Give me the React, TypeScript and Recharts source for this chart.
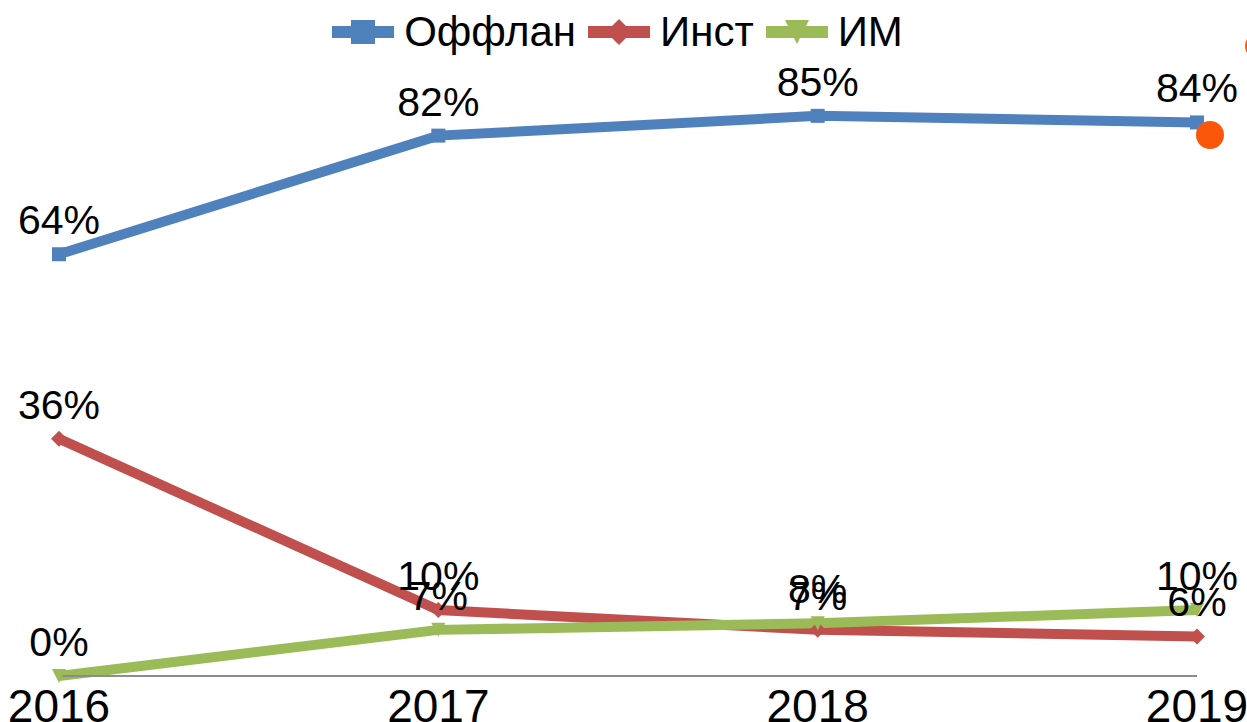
import { LineChart, Line, XAxis, YAxis, LabelList, Legend } from 'recharts'

const YEARS = ['2016', '2017', '2018', '2019']
const OFFLINE = [64, 82, 85, 84]
const INST = [36, 10, 7, 6]
const IM = [0, 7, 8, 10]

const SERIES = [
  { key: 'offline', name: 'Оффлан', color: '#4F81BD', marker: 'square' },
  { key: 'inst', name: 'Инст', color: '#C0504D', marker: 'diamond' },
  { key: 'im', name: 'ИМ', color: '#9BBB59', marker: 'triangle' },
]

const data = YEARS.map((year, i) => ({
  year,
  offline: OFFLINE[i],
  inst: INST[i],
  im: IM[i],
}))

const FONT = '"Liberation Sans", Arial, sans-serif'

function Marker({ cx, cy, type, color, size = 8 }: any) {
  if (cx == null || cy == null) return null
  if (type === 'square') {
    return <rect x={cx - size} y={cy - size} width={size * 2} height={size * 2} fill={color} />
  }
  if (type === 'diamond') {
    const s = size + 1
    return <polygon points={`${cx},${cy - s} ${cx + s},${cy} ${cx},${cy + s} ${cx - s},${cy}`} fill={color} />
  }
  return <polygon points={`${cx - size},${cy - size} ${cx + size},${cy - size} ${cx},${cy + size}`} fill={color} />
}

function LegendContent() {
  return (
    <div style={{ display: 'flex', justifyContent: 'center', alignItems: 'center', fontFamily: FONT, fontSize: 42, color: '#000' }}>
      {SERIES.map((s) => (
        <div key={s.key} style={{ display: 'flex', alignItems: 'center', marginRight: 12 }}>
          <svg width={62} height={40} style={{ marginRight: 10 }}>
            <line x1={0} y1={20} x2={62} y2={20} stroke={s.color} strokeWidth={12} />
            <Marker cx={31} cy={20} type={s.marker} color={s.color} size={12} />
          </svg>
          <span>{s.name}</span>
        </div>
      ))}
    </div>
  )
}

export default function App() {
  return (
    <div style={{ position: 'absolute', left: 0, top: 0, width: 1247, height: 722, background: '#fff', overflow: 'hidden' }}>
      <LineChart
        width={1247}
        height={722}
        data={data}
        margin={{ top: 17, right: 50, bottom: 0, left: 59 }}
      >
        <XAxis
          dataKey="year"
          height={46}
          padding={{ left: 0, right: 0 }}
          axisLine={{ stroke: '#8c8c8c', strokeWidth: 2 }}
          tickLine={false}
          tickSize={0}
          tickMargin={13}
          interval={0}
          tick={{ fontSize: 46, fill: '#000', fontFamily: FONT }}
        />
        <YAxis hide domain={[0, 100]} width={0} />
        <Legend
          verticalAlign="middle"
          align="center"
          layout="horizontal"
          content={<LegendContent />}
          wrapperStyle={{ top: 8, left: 0, width: 1247 }}
        />
        {SERIES.map((s) => (
          <Line
            key={s.key}
            dataKey={s.key}
            name={s.name}
            type="linear"
            stroke={s.color}
            strokeWidth={10}
            isAnimationActive={false}
            dot={(p: any) => <Marker key={`${s.key}-${p.index}`} cx={p.cx} cy={p.cy} type={s.marker} color={s.color} size={7} />}
            activeDot={false}
          >
            <LabelList
              dataKey={s.key}
              position="top"
              offset={20}
              formatter={(v: any) => `${v}%`}
              style={{ fontSize: 41, fill: '#000', fontFamily: FONT }}
            />
          </Line>
        ))}
      </LineChart>
      <div style={{ position: 'absolute', left: 1196, top: 121, width: 28, height: 28, borderRadius: '50%', background: '#FA570A' }} />
      <div style={{ position: 'absolute', left: 1245, top: 33, width: 26, height: 26, borderRadius: '50%', background: '#FA570A' }} />
    </div>
  )
}
